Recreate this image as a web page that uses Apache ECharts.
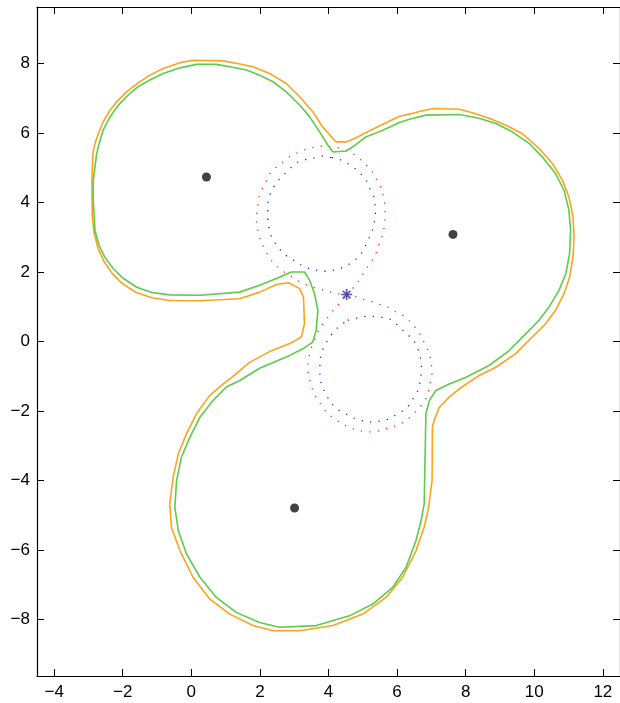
<!DOCTYPE html>
<html><head><meta charset="utf-8">
<script src="https://cdn.jsdelivr.net/npm/echarts@6/dist/echarts.min.js"></script>
<style>html,body{margin:0;padding:0;background:#fff}#c{width:620px;height:703px}</style>
</head><body><div id="c"></div>
<script>
const xTicks = [-4,-2,0,2,4,6,8,10,12];
const yTicks = [-8,-6,-4,-2,0,2,4,6,8];
const xRange = [-4.5, 12.5];
const yRange = [-9.62, 9.62];

const centers = [[0.44,4.73],[7.63,3.08],[3.01,-4.79]];
const saddle = [[4.53,1.35]];

const greenContour = [
[4.13,5.45],[4.51,5.48],[4.71,5.60],[4.90,5.74],[5.10,5.89],[5.39,6.00],[5.60,6.08],[6.07,6.30],[6.36,6.39],[6.84,6.51],
[7.81,6.53],[8.39,6.42],[8.88,6.27],[9.36,6.03],[9.85,5.70],[10.23,5.31],[10.62,4.83],[10.87,4.35],[11.01,3.78],[11.06,3.20],
[11.03,2.53],[10.92,1.95],[10.72,1.47],[10.43,0.99],[10.14,0.61],[9.75,0.22],[9.27,-0.26],[8.68,-0.69],[8.01,-1.03],[7.52,-1.22],
[7.13,-1.41],[6.94,-1.70],[6.84,-2.08],[6.79,-4.67],[6.70,-5.15],[6.55,-5.73],[6.26,-6.50],[5.87,-7.07],[5.29,-7.55],[4.61,-7.89],
[3.64,-8.17],[2.57,-8.22],[1.99,-8.08],[1.31,-7.79],[0.73,-7.36],[0.25,-6.78],[-0.14,-6.11],[-0.38,-5.44],[-0.48,-4.77],[-0.43,-4.00],
[-0.29,-3.33],[-0.04,-2.75],[0.25,-2.18],[0.63,-1.70],[1.02,-1.31],[1.41,-1.12],[1.99,-0.77],[2.87,-0.40],[3.25,-0.21],[3.54,-0.02],
[3.64,0.32],[3.69,0.90],[3.59,1.38],[3.45,1.76],[3.30,2.00],[2.91,2.00],[2.57,1.85],[1.99,1.62],[1.41,1.42],[0.25,1.33],
[-0.63,1.34],[-1.15,1.41],[-1.59,1.56],[-1.99,1.82],[-2.28,2.10],[-2.52,2.42],[-2.69,2.76],[-2.81,3.20],[-2.86,4.06],[-2.86,4.64],
[-2.81,5.02],[-2.76,5.41],[-2.66,5.79],
[-2.57,6.08],[-2.42,6.37],[-2.27,6.61],[-2.08,6.85],[-1.84,7.09],[-1.55,7.33],[-1.21,7.52],[-0.82,7.71],[-0.33,7.87],[0.15,7.97],
[0.73,7.97],[1.12,7.90],[1.61,7.81],[1.99,7.66],[2.38,7.47],[2.77,7.18],[3.16,6.80],[3.45,6.46],[3.74,6.03],[3.98,5.65],[4.13,5.45]
];

const orangeContour = [
[4.22,5.74],[4.51,5.74],[4.76,5.84],[5.00,5.96],[5.24,6.08],[6.07,6.48],[6.45,6.56],[6.70,6.63],[7.08,6.70],[7.81,6.68],
[8.20,6.58],[8.68,6.42],[9.17,6.22],[9.65,5.98],[10.14,5.55],[10.53,5.12],[10.82,4.64],[11.01,4.16],[11.13,3.58],[11.16,3.01],
[11.13,2.43],[11.03,1.85],[10.87,1.38],[10.62,0.90],[10.33,0.51],[9.94,0.13],[9.46,-0.35],[8.88,-0.74],[8.39,-0.98],[7.81,-1.36],
[7.52,-1.60],[7.23,-1.89],[7.08,-2.27],[7.03,-2.46],[7.02,-4.00],[6.92,-4.77],[6.79,-5.34],[6.55,-6.02],[6.16,-6.78],[5.68,-7.36],
[5.00,-7.84],[4.13,-8.17],[3.16,-8.32],[2.38,-8.32],[1.80,-8.17],[1.12,-7.84],[0.54,-7.41],[0.05,-6.78],[-0.33,-6.02],[-0.58,-5.34],
[-0.63,-4.67],[-0.53,-3.90],[-0.38,-3.23],[-0.14,-2.65],[0.15,-2.08],[0.54,-1.55],[0.93,-1.22],[1.18,-1.03],[1.70,-0.60],[2.28,-0.29],
[2.87,-0.06],[3.21,0.13],[3.30,0.51],[3.27,1.28],[3.16,1.52],[2.84,1.69],[2.48,1.64],[1.99,1.42],[1.41,1.23],[0.25,1.17],
[-0.63,1.18],[-1.15,1.26],[-1.61,1.41],[-2.02,1.67],[-2.31,1.96],[-2.55,2.31],[-2.72,2.68],[-2.84,3.14],[-2.89,3.63],
[-2.90,4.64],[-2.87,5.41],[-2.81,5.70],[-2.71,5.98],
[-2.57,6.32],[-2.37,6.65],[-2.18,6.89],[-1.89,7.18],[-1.55,7.44],[-1.21,7.66],[-0.82,7.85],[-0.33,8.02],[0.05,8.09],[0.93,8.07],
[1.31,8.00],[1.80,7.90],[2.28,7.71],[2.77,7.42],[3.16,7.04],[3.54,6.61],[3.83,6.17],[4.13,5.84],[4.22,5.74]
];

const redLevel = [
[4.53,1.35],[4.78,1.60],[4.93,1.81],[5.07,2.05],[5.21,2.24],[5.36,2.45],[5.43,2.69],[5.54,2.93],[5.60,3.17],[5.65,3.41],
[5.65,3.66],[5.65,3.92],[5.60,4.18],[5.54,4.42],[5.41,4.64],[5.30,4.85],[5.14,5.04],[4.96,5.21],[4.76,5.37],[4.53,5.47],
[4.29,5.57],[4.05,5.60],[3.86,5.62],[3.62,5.60],[3.35,5.53],[3.12,5.44],[2.89,5.33],[2.68,5.17],[2.48,5.02],[2.30,4.83],
[2.19,4.62],[2.07,4.39],[1.97,4.15],[1.94,3.89],[1.90,3.65],[1.90,3.39],[1.95,3.15],[2.01,2.91],[2.13,2.67],[2.25,2.45],
[2.40,2.24],[2.59,2.08],[2.80,1.93],[3.01,1.81],[3.23,1.68],[3.47,1.59],[3.71,1.51],[3.95,1.46],[4.20,1.38],[4.53,1.35],
[4.75,1.31],[5.01,1.21],[5.25,1.15],[5.48,1.07],[5.73,0.99],[5.95,0.86],[6.17,0.75],[6.35,0.60],[6.52,0.41],[6.67,0.21],
[6.78,-0.01],[6.90,-0.25],[6.98,-0.50],[7.01,-0.74],[7.02,-1.00],[6.95,-1.24],[6.91,-1.49],[6.80,-1.72],[6.64,-1.92],[6.47,-2.10],
[6.27,-2.26],[6.07,-2.40],[5.81,-2.46],[5.58,-2.54],[5.34,-2.60],[5.08,-2.60],[4.83,-2.55],[4.58,-2.46],[4.37,-2.35],[4.15,-2.21],
[3.96,-2.06],[3.81,-1.86],[3.68,-1.67],[3.56,-1.47],[3.48,-1.22],[3.41,-0.96],[3.40,-0.71],[3.42,-0.48],[3.49,-0.21],[3.58,0.02],
[3.73,0.36],[3.86,0.55],[4.03,0.75],[4.18,0.95],[4.35,1.13],[4.53,1.35]
];

const blueUpper = [
[4.08,5.29],[3.83,5.34],[3.58,5.28],[3.33,5.23],[3.09,5.15],[2.89,4.99],[2.72,4.82],[2.54,4.64],[2.40,4.44],[2.28,4.20],
[2.23,3.96],[2.23,3.70],[2.23,3.44],[2.28,3.20],[2.35,2.96],[2.51,2.74],[2.66,2.55],[2.85,2.41],[3.06,2.29],[3.28,2.14],
[3.53,2.08],[3.77,2.02],[4.03,2.02],[4.28,2.08],[4.51,2.16],[4.73,2.31],[4.93,2.48],[5.05,2.70],[5.16,2.93],[5.27,3.16],
[5.33,3.39],[5.37,3.64],[5.36,3.90],[5.33,4.15],[5.21,4.38],[5.13,4.59],[4.97,4.79],[4.79,4.96],[4.59,5.10],[4.40,5.21],
[4.15,5.29],[4.08,5.29]
];

const blueLower = [
[4.56,0.61],[4.81,0.67],[5.08,0.72],[5.34,0.72],[5.59,0.69],[5.83,0.63],[6.09,0.41],[6.26,0.22],[6.45,0.09],[6.58,-0.14],
[6.66,-0.37],[6.71,-0.63],[6.71,-0.89],[6.63,-1.38],[6.49,-1.60],[6.38,-1.81],[6.19,-1.98],[5.98,-2.10],[5.77,-2.23],[5.51,-2.29],
[5.16,-2.32],[4.91,-2.26],[4.67,-2.18],[4.45,-2.05],[4.22,-1.93],[4.07,-1.76],[3.93,-1.54],[3.82,-1.31],[3.75,-1.07],[3.75,-0.81],
[3.75,-0.54],[3.80,-0.31],[3.90,-0.08],[4.03,0.12],[4.18,0.32],[4.37,0.49],[4.56,0.61]
];

const fmt = v => (v < 0 ? '\u2212' + Math.abs(v) : String(v));
const labelFont = {fontFamily: 'Liberation Sans, Arial, sans-serif', fontSize: 17, color: '#000'};
const axisLine = {show: true, onZero: false, lineStyle: {color: '#000', width: 1.2}};

function xAx(pos, showLabel) {
  return {type: 'value', position: pos, min: xRange[0], max: xRange[1],
    axisLine: axisLine, splitLine: {show: false},
    axisTick: {show: true, inside: true, length: 7, customValues: xTicks, lineStyle: {color: '#000', width: 1}},
    axisLabel: Object.assign({show: showLabel, customValues: xTicks, formatter: fmt, margin: 8}, labelFont)};
}
function yAx(pos, showLabel) {
  return {type: 'value', position: pos, min: yRange[0], max: yRange[1],
    axisLine: axisLine, splitLine: {show: false},
    axisTick: {show: true, inside: true, length: 7, customValues: yTicks, lineStyle: {color: '#000', width: 1}},
    axisLabel: Object.assign({show: showLabel, customValues: yTicks, formatter: fmt, margin: 7}, labelFont)};
}

function lineS(data, color, width, dash) {
  return {type: 'line', data: data, showSymbol: false, symbol: 'none', silent: true,
    lineStyle: {color: color, width: width, type: dash || 'solid'}, z: 2};
}

const chart = echarts.init(document.getElementById('c'), null, {renderer: 'canvas'});
chart.setOption({
  animation: false,
  backgroundColor: '#fff',
  grid: {left: 37, top: 7, width: 584, height: 669, containLabel: false},
  xAxis: [xAx('bottom', true), xAx('top', false)],
  yAxis: [yAx('left', true), yAx('right', false)],
  series: [
    lineS(redLevel, '#ff2a2a', 1.3, [1.3, 7.2]),
    lineS(blueUpper, '#2a2ad0', 1.3, [1.3, 7.2]),
    lineS(blueLower, '#2a2ad0', 1.3, [1.3, 7.2]),
    lineS(orangeContour, '#ffa21c', 1.6),
    lineS(greenContour, '#5ccc4a', 1.6),
    {type: 'scatter', data: centers, symbol: 'circle', symbolSize: 9, silent: true,
      itemStyle: {color: '#111'}, z: 5},
    {type: 'scatter', data: saddle, silent: true, z: 6,
      symbol: 'path://M0,-10L0,10M-10,0L10,0M-7,-7L7,7M-7,7L7,-7', symbolSize: 11,
      itemStyle: {color: 'none', borderColor: '#2c2c9a', borderWidth: 1.6}}
  ]
});
</script></body></html>
